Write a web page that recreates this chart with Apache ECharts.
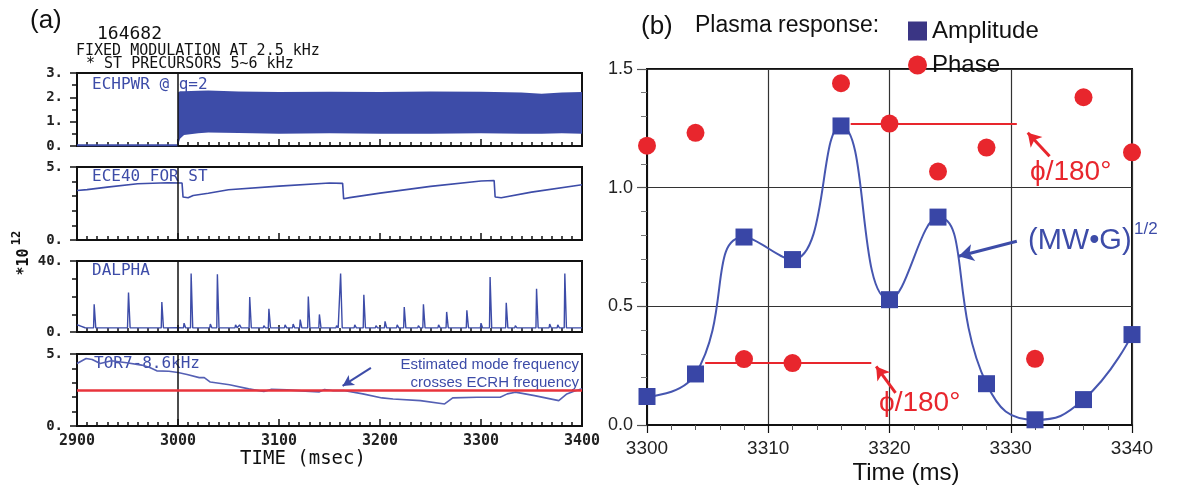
<!DOCTYPE html>
<html>
<head>
<meta charset="utf-8">
<script src="https://cdn.jsdelivr.net/npm/echarts@6/dist/echarts.min.js"></script>
<style>
  html, body { margin: 0; padding: 0; background: #fff; }
  #chart { width: 1180px; height: 487px; }
</style>
</head>
<body>
<div id="chart"></div>
<script>
// ---- panel (a): ECHPWR envelope (MW)
const echFlatT = [2900, 3000];
const echFlatV = [0.03, 0.03];
const echBandT = [3000, 3002, 3006, 3020, 3030, 3060, 3100, 3150, 3200, 3250, 3300, 3340, 3360, 3380, 3400];
const echBandHi = [2.2, 2.25, 2.25, 2.27, 2.28, 2.24, 2.22, 2.23, 2.22, 2.24, 2.23, 2.2, 2.15, 2.2, 2.22];
const echBandLo = [0.02, 0.3, 0.45, 0.52, 0.55, 0.53, 0.5, 0.52, 0.5, 0.5, 0.52, 0.5, 0.5, 0.52, 0.5];

// ---- ECE40 (sawtooth)
const eceT = [2900, 2910, 2930, 2960, 2990, 3004, 3005, 3010, 3015, 3030, 3050, 3100, 3150, 3163, 3164, 3170, 3200, 3250, 3300, 3313, 3314, 3320, 3350, 3400];
const eceV = [3.39, 3.45, 3.62, 3.85, 3.92, 3.9, 2.94, 2.89, 3.05, 3.2, 3.44, 3.69, 3.9, 3.88, 2.82, 2.9, 3.21, 3.67, 4.04, 4.08, 2.94, 2.89, 3.28, 3.78];

// ---- DALPHA spikes
const dalphaBaseT = [2900, 2903, 2908, 2950, 3000, 3100, 3200, 3300, 3400];
const dalphaBaseV = [4.0, 3.5, 2.4, 2.4, 2.4, 2.3, 2.3, 2.3, 2.3];
const dalphaFloor = 2.3;
const spikeT = [2917, 2951, 2984, 3006, 3013, 3032, 3039, 3057, 3061, 3071, 3085, 3090, 3106, 3114, 3121, 3129, 3140, 3157, 3161, 3175, 3184, 3196, 3205, 3217, 3224, 3238, 3243, 3258, 3266, 3286, 3300, 3309, 3325, 3334, 3355, 3368, 3376, 3383];
const spikeV = [15.6, 22.2, 16.9, 5, 32.9, 4.5, 32.5, 4, 4, 19.7, 3.5, 13.1, 4, 4.5, 7, 20, 9.9, 3.5, 32.9, 4, 21, 3.5, 6, 4, 14.1, 3.5, 15.6, 4, 11.3, 12.2, 5, 31, 16.5, 3.5, 24.4, 4.5, 4, 32.9];

// ---- TOR7 mode frequency (kHz)
const torT = [2900, 2909, 2915, 2923, 2934, 2949, 2964, 2972, 2979, 2991, 3000, 3009, 3021, 3026, 3032, 3051, 3070, 3085, 3092, 3108, 3126, 3140, 3145, 3153, 3164, 3183, 3202, 3213, 3240, 3264, 3272, 3296, 3319, 3326, 3334, 3353, 3377, 3385, 3392, 3400];
const torV = [4.34, 4.69, 4.62, 4.34, 4.53, 4.39, 4.23, 4.06, 3.83, 3.8, 3.71, 3.57, 3.36, 3.36, 3.05, 2.86, 2.58, 2.39, 2.54, 2.51, 2.42, 2.37, 2.54, 2.46, 2.46, 2.23, 1.95, 1.88, 1.76, 1.53, 1.95, 2.0, 2.0, 2.23, 2.35, 2.11, 1.76, 2.23, 2.42, 2.58];
const ecrhFreq = 2.5;

// ---- panel (b): plasma response
const timeMs = [3300, 3304, 3308, 3312, 3316, 3320, 3324, 3328, 3332, 3336, 3340];
const amplitude = [0.12, 0.215, 0.792, 0.697, 1.26, 0.528, 0.876, 0.174, 0.022, 0.107, 0.381];
const phase = [1.177, 1.231, 0.278, 0.261, 1.44, 1.27, 1.068, 1.169, 0.279, 1.381, 1.149];

const BLUE = '#3d4ca8';
const RED = '#e8262d';
const MONO = '"DejaVu Sans Mono", monospace';
const SANS = '"Liberation Sans", Arial, sans-serif';

const zip = (xs, ys) => xs.map((x, i) => [x, ys[i]]);

// DALPHA line: baseline points plus a narrow peak for each spike
const dalphaData = zip(dalphaBaseT, dalphaBaseV);
spikeT.forEach((t, i) => {
  dalphaData.push([t - 0.6, dalphaFloor], [t, spikeV[i]], [t + 1.6, dalphaFloor]);
});
dalphaData.sort((a, b) => a[0] - b[0]);

const leftGrids = [
  { left: 77, top: 73, width: 505, height: 73 },
  { left: 77, top: 167, width: 505, height: 73 },
  { left: 77, top: 261, width: 505, height: 71 },
  { left: 77, top: 354, width: 505, height: 72 },
];
const yDefs = [
  { max: 3, interval: 1, minor: 2 },
  { max: 5, interval: 5, minor: 5 },
  { max: 40, interval: 40, minor: 4 },
  { max: 5, interval: 5, minor: 5 },
];

function leftX(i) {
  return {
    type: 'value', gridIndex: i, min: 2900, max: 3400, interval: 100,
    axisLine: { show: true, lineStyle: { color: '#111', width: 2 } },
    axisTick: { show: true, inside: true, length: 7, lineStyle: { color: '#111', width: 1.5 } },
    minorTick: { show: true, splitNumber: 10, length: 4, lineStyle: { color: '#111', width: 1.5 } },
    splitLine: { show: false },
    axisLabel: {
      show: i === 3, margin: 8, color: '#222',
      fontFamily: MONO, fontWeight: 'bold', fontSize: 15,
      formatter: (v) => String(v),
    },
  };
}

function leftY(i) {
  const d = yDefs[i];
  return {
    type: 'value', gridIndex: i, min: 0, max: d.max, interval: d.interval,
    axisLine: { show: true, lineStyle: { color: '#111', width: 2 } },
    axisTick: { show: true, inside: false, length: 7, lineStyle: { color: '#111', width: 1.5 } },
    minorTick: { show: true, splitNumber: d.minor, length: 5, lineStyle: { color: '#111', width: 1.5 } },
    splitLine: { show: false },
    axisLabel: {
      margin: 14, color: '#222', fontFamily: MONO, fontWeight: 'bold', fontSize: 14,
      formatter: (v) => v + '.',
    },
  };
}

const vline3000 = {
  silent: true, symbol: ['none', 'none'], animation: false,
  label: { show: false },
  lineStyle: { color: '#111', width: 1.5, type: 'solid' },
  data: [{ xAxis: 3000 }],
};

const text = (t, x, y, size, color, family, extra) => ({
  type: 'text', x, y,
  style: Object.assign({
    text: t, fontSize: size, fontFamily: family, fill: color,
    verticalAlign: 'middle', align: 'left',
  }, extra || {}),
});

const chart = echarts.init(document.getElementById('chart'));
chart.setOption({
  animation: false,
  backgroundColor: '#fff',
  grid: leftGrids.map((g) => Object.assign({ show: true, borderColor: '#111', borderWidth: 2 }, g)).concat([
    { left: 647, top: 69, width: 485, height: 356, show: true, borderColor: '#111', borderWidth: 2 },
  ]),
  xAxis: [0, 1, 2, 3].map(leftX).concat([{
    type: 'value', gridIndex: 4, min: 3300, max: 3340, interval: 10,
    axisLine: { show: true, lineStyle: { color: '#111', width: 2 } },
    axisTick: { show: true, inside: false, length: 8, lineStyle: { color: '#111', width: 1.2 } },
    minorTick: { show: true, splitNumber: 5, length: 5, lineStyle: { color: '#555', width: 1 } },
    splitLine: { show: true, lineStyle: { color: '#333', width: 1.2 } },
    axisLabel: { margin: 14, color: '#222', fontFamily: SANS, fontSize: 19, formatter: (v) => String(v) },
  }]),
  yAxis: [0, 1, 2, 3].map(leftY).concat([{
    type: 'value', gridIndex: 4, min: 0, max: 1.5, interval: 0.5,
    axisLine: { show: true, lineStyle: { color: '#111', width: 2 } },
    axisTick: { show: true, inside: false, length: 10, lineStyle: { color: '#555', width: 1.2 } },
    minorTick: { show: true, splitNumber: 5, length: 6, lineStyle: { color: '#777', width: 1 } },
    splitLine: { show: true, lineStyle: { color: '#333', width: 1.2 } },
    axisLabel: { margin: 14, color: '#222', fontFamily: SANS, fontSize: 18, formatter: (v) => v.toFixed(1) },
  }]),
  legend: {
    left: 903, top: 14, orient: 'vertical', itemGap: 10, itemWidth: 19, itemHeight: 19,
    textStyle: { fontSize: 24, color: '#111', fontFamily: SANS },
    data: [
      { name: 'Amplitude', icon: 'rect', itemStyle: { color: '#3a3584' } },
      { name: 'Phase', icon: 'circle', itemStyle: { color: RED, opacity: 1 } },
    ],
  },
  series: [
    {
      type: 'line', xAxisIndex: 0, yAxisIndex: 0, data: zip(echFlatT, echFlatV),
      showSymbol: false, lineStyle: { color: BLUE, width: 2 }, markLine: vline3000,
    },
    {
      type: 'custom', xAxisIndex: 0, yAxisIndex: 0, silent: true,
      data: echBandT.map((t, i) => [t, echBandHi[i]]),
      renderItem: (params, api) => {
        if (params.dataIndex !== 0) return { type: 'group', children: [] };
        const top = echBandT.map((t, i) => api.coord([t, echBandHi[i]]));
        const bot = echBandT.map((t, i) => api.coord([t, echBandLo[i]])).reverse();
        return { type: 'polygon', shape: { points: top.concat(bot) }, style: { fill: BLUE } };
      },
    },
    {
      type: 'line', xAxisIndex: 1, yAxisIndex: 1, data: zip(eceT, eceV),
      showSymbol: false, lineStyle: { color: BLUE, width: 1.6 }, markLine: vline3000,
    },
    {
      type: 'line', xAxisIndex: 2, yAxisIndex: 2, data: dalphaData,
      showSymbol: false, lineStyle: { color: BLUE, width: 1.4 }, markLine: vline3000,
    },
    {
      type: 'line', xAxisIndex: 3, yAxisIndex: 3, data: zip(torT, torV),
      showSymbol: false, lineStyle: { color: '#5560b4', width: 1.6 },
      markLine: {
        silent: true, symbol: ['none', 'none'], animation: false, label: { show: false },
        data: [
          { xAxis: 3000, lineStyle: { color: '#111', width: 1.5, type: 'solid' } },
          { yAxis: ecrhFreq, lineStyle: { color: '#e8343c', width: 2.5, type: 'solid' } },
          [
            { coord: [3191, 4.03], symbol: 'none', lineStyle: { color: BLUE, width: 2, type: 'solid' } },
            { coord: [3163, 2.78], symbol: 'arrow', symbolSize: [9, 11] },
          ],
        ],
      },
    },
    {
      name: 'Amplitude', type: 'line', xAxisIndex: 4, yAxisIndex: 4, data: zip(timeMs, amplitude),
      smooth: 0.5, symbol: 'rect', symbolSize: 17, z: 3,
      itemStyle: { color: '#3946a6' }, lineStyle: { color: '#4656b0', width: 2 },
    },
    {
      name: 'Phase', type: 'scatter', xAxisIndex: 4, yAxisIndex: 4, data: zip(timeMs, phase),
      symbol: 'circle', symbolSize: 18, z: 4, itemStyle: { color: RED, opacity: 1 },
      markLine: {
        silent: true, symbol: ['none', 'none'], animation: false, label: { show: false },
        lineStyle: { color: RED, width: 1.8, type: 'solid' },
        data: [
          [{ coord: [3316.8, 1.27] }, { coord: [3330.5, 1.27] }],
          [{ coord: [3304.8, 0.261] }, { coord: [3318.5, 0.261] }],
          [
            { coord: [3333.2, 1.132], symbol: 'none', lineStyle: { width: 3 } },
            { coord: [3331.4, 1.231], symbol: 'arrow', symbolSize: [12, 13] },
          ],
          [
            { coord: [3320.5, 0.135], symbol: 'none', lineStyle: { width: 3 } },
            { coord: [3318.9, 0.247], symbol: 'arrow', symbolSize: [12, 13] },
          ],
          [
            { coord: [3330.5, 0.774], symbol: 'none', lineStyle: { width: 3, color: BLUE } },
            { coord: [3325.7, 0.711], symbol: 'arrow', symbolSize: [13, 15] },
          ],
        ],
      },
    },
  ],
  graphic: [
    text('(a)', 30, 21, 26, '#111', SANS),
    text('164682', 97, 34, 18, '#111', MONO),
    text('FIXED MODULATION AT 2.5 kHz', 76, 51, 15, '#111', MONO),
    text('* ST PRECURSORS 5~6 kHz', 86, 64, 15, '#111', MONO),
    text('ECHPWR @ q=2', 92, 85, 16, BLUE, MONO),
    text('ECE40 FOR ST', 92, 177, 16, BLUE, MONO),
    text('DALPHA', 92, 271, 16, BLUE, MONO),
    text('TOR7-8.6kHz', 94, 364, 16, BLUE, MONO),
    text('Estimated mode frequency', 579, 365, 15, BLUE, SANS, { align: 'right' }),
    text('crosses ECRH frequency', 579, 383, 15, BLUE, SANS, { align: 'right' }),
    text('TIME (msec)', 303, 459, 19, '#111', MONO, { align: 'center' }),
    { type: 'text', x: 24, y: 262, rotation: Math.PI / 2,
      style: { text: '*10', fontSize: 15, fontWeight: 'bold', fontFamily: MONO, fill: '#111', align: 'center', verticalAlign: 'middle' } },
    { type: 'text', x: 17, y: 238, rotation: Math.PI / 2,
      style: { text: '12', fontSize: 12, fontWeight: 'bold', fontFamily: MONO, fill: '#111', align: 'center', verticalAlign: 'middle' } },
    text('(b)', 641, 27, 26, '#111', SANS),
    text('Plasma response:', 695, 26, 23, '#111', SANS),
    text('ϕ/180°', 1030, 172, 28, RED, SANS),
    text('ϕ/180°', 879, 403, 28, RED, SANS),
    text('(MW•G)', 1028, 241, 29, BLUE, SANS),
    text('1/2', 1134, 229, 17, BLUE, SANS),
    text('Time (ms)', 906, 473, 24, '#111', SANS, { align: 'center' }),
  ],
});
</script>
</body>
</html>
